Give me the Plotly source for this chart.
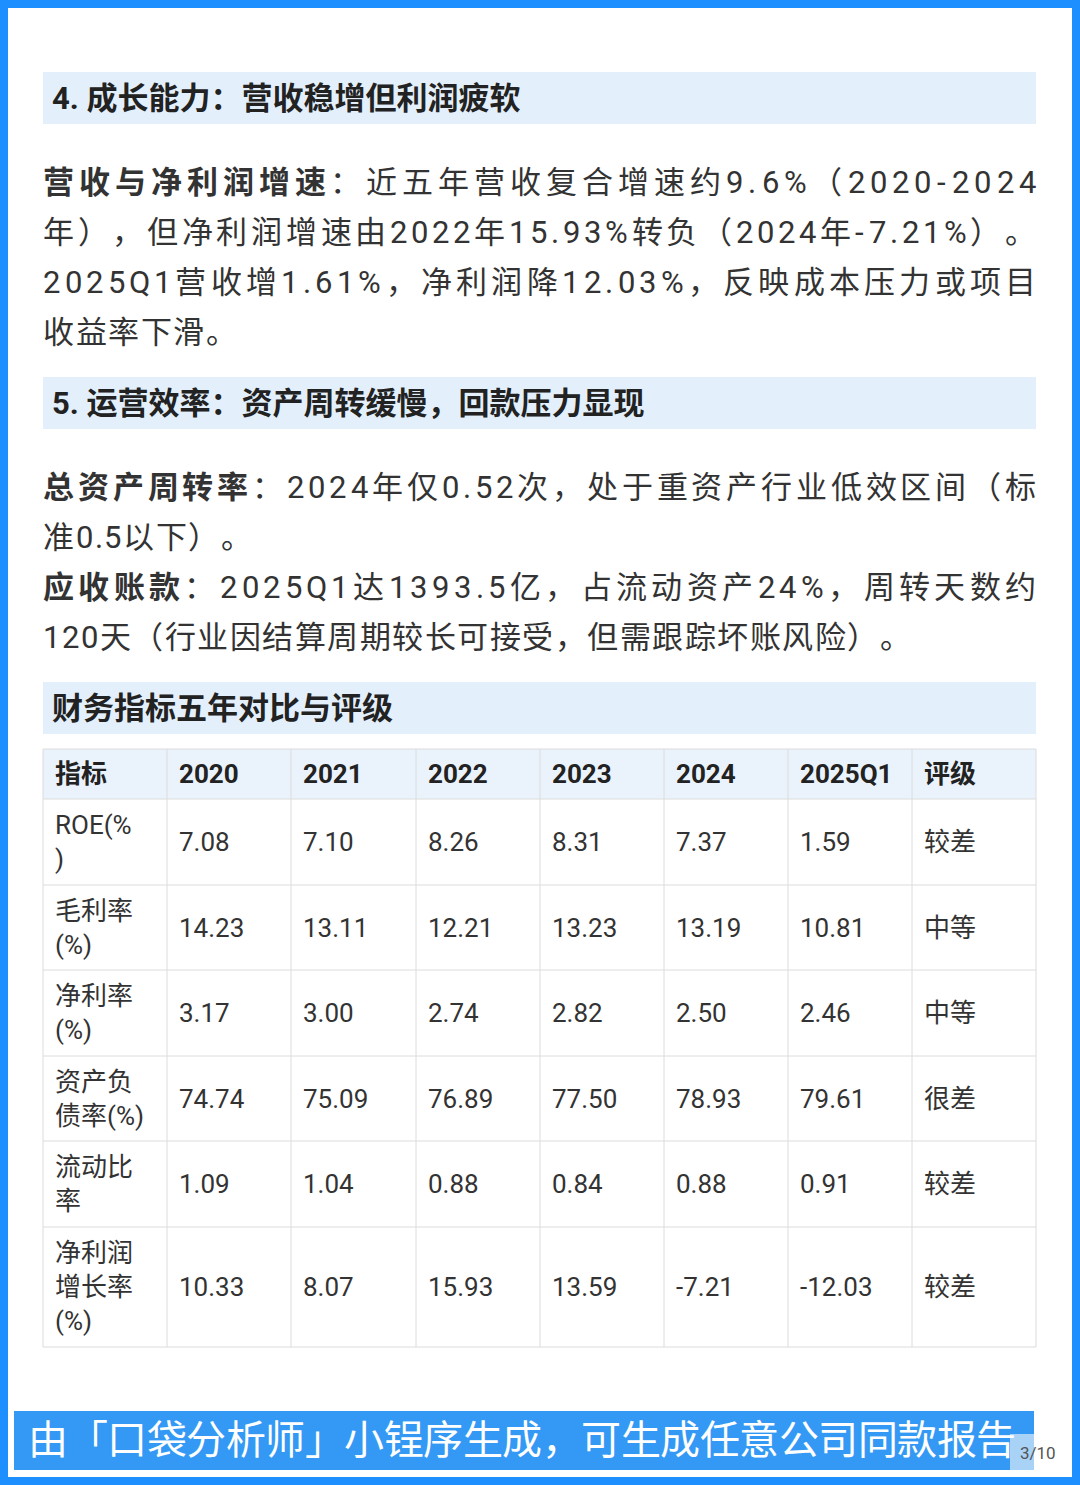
import plotly.graph_objects as go

headers = ["指标", "2020", "2021", "2022", "2023", "2024", "2025Q1", "评级"]
indicators = ["ROE(%<br>)", "毛利率<br>(%)", "净利率<br>(%)", "资产负<br>债率(%)", "流动比<br>率", "净利润<br>增长率<br>(%)"]
v2020 = ["7.08", "14.23", "3.17", "74.74", "1.09", "10.33"]
v2021 = ["7.10", "13.11", "3.00", "75.09", "1.04", "8.07"]
v2022 = ["8.26", "12.21", "2.74", "76.89", "0.88", "15.93"]
v2023 = ["8.31", "13.23", "2.82", "77.50", "0.84", "13.59"]
v2024 = ["7.37", "13.19", "2.50", "78.93", "0.88", "-7.21"]
v2025q1 = ["1.59", "10.81", "2.46", "79.61", "0.91", "-12.03"]
ratings = ["较差", "中等", "中等", "很差", "较差", "较差"]

FONT = "Roboto, Noto Sans CJK SC"
TXT = "#333333"
fig = go.Figure()
shapes, ann = [], []

def text(x, y, s, size, color=TXT, anchor="left", bold=False):
    ann.append(dict(x=x, y=y, text=f"<b>{s}</b>" if bold else s, xref="x", yref="y",
                    showarrow=False, xanchor=anchor, yanchor="middle", align="left",
                    font=dict(family=FONT, size=size, color=color)))

def cw(c, size):
    if ord(c) > 0x2000:
        return size
    if c in ".,": return 0.27 * size
    if c in "()-": return 0.33 * size
    if c == "%": return 0.74 * size
    if c.isupper(): return 0.65 * size
    return 0.56 * size

def jline(y, segs, size, justify, x0=43, x1=1036, color=TXT):
    chars = [(c, b) for s, b in segs for c in s]
    widths = [cw(c, size) for c, _ in chars]
    extra = (x1 - x0 - sum(widths)) / (len(chars) - 1) if justify else 1.5
    x = x0
    for (c, b), w in zip(chars, widths):
        text(x + w / 2, y, c, size, color, anchor="center", bold=b)
        x += w + extra

shapes.append(dict(type="rect", x0=4, y0=4, x1=1076, y1=1481, line=dict(color="#1e8fff", width=8),
                   fillcolor="white", layer="below"))

def heading(y0, y1, s):
    shapes.append(dict(type="rect", x0=43, x1=1036, y0=y0, y1=y1, fillcolor="#e3f0fc", line_width=0, layer="below"))
    text(50, (y0 + y1) / 2, s, 31, "#222222", bold=True)

heading(72, 124, "4. 成长能力：营收稳增但利润疲软")
jline(182, [("营收与净利润增速", True), ("：近五年营收复合增速约9.6%（2020-2024", False)], 31, True)
jline(232, [("年），但净利润增速由2022年15.93%转负（2024年-7.21%）。", False)], 31, True)
jline(282, [("2025Q1营收增1.61%，净利润降12.03%，反映成本压力或项目", False)], 31, True)
jline(332, [("收益率下滑。", False)], 31, False)
heading(377, 429, "5. 运营效率：资产周转缓慢，回款压力显现")
jline(487, [("总资产周转率", True), ("：2024年仅0.52次，处于重资产行业低效区间（标", False)], 31, True)
jline(537, [("准0.5以下）。", False)], 31, False)
jline(587, [("应收账款", True), ("：2025Q1达1393.5亿，占流动资产24%，周转天数约", False)], 31, True)
jline(637, [("120天（行业因结算周期较长可接受，但需跟踪坏账风险）。", False)], 31, False)
heading(682, 734, "财务指标五年对比与评级")

xs = [43, 167, 291, 416, 540, 664, 788, 912, 1036]
ys = [749, 799, 885, 970, 1056, 1141, 1227, 1347]
shapes.append(dict(type="rect", x0=43, x1=1036, y0=ys[0], y1=ys[1], fillcolor="#eaf3fc", line_width=0, layer="below"))
for x in xs:
    shapes.append(dict(type="line", x0=x, x1=x, y0=ys[0], y1=ys[-1], line=dict(color="#dcdcdc", width=1)))
for y in ys:
    shapes.append(dict(type="line", x0=43, x1=1036, y0=y, y1=y, line=dict(color="#dcdcdc", width=1)))
for j, h in enumerate(headers):
    text(xs[j] + 10, (ys[0] + ys[1]) / 2, h, 26, "#222222", bold=True)
cols = [indicators, v2020, v2021, v2022, v2023, v2024, v2025q1, ratings]
for j, col in enumerate(cols):
    for i, v in enumerate(col):
        text(xs[j] + 10, (ys[i + 1] + ys[i + 2]) / 2, v, 26, "#333333")

shapes.append(dict(type="rect", x0=14, x1=1034, y0=1411, y1=1470, fillcolor="#3399f5", line_width=0,
                   layer="below"))
shapes.append(dict(type="rect", x0=1010, x1=1034, y0=1434, y1=1470, fillcolor="#a9d2f7", line_width=0,
                   layer="below"))
jline(1440, [("由「口袋分析师」小锃序生成，可生成任意公司同款报告", False)], 40, True, x0=28, x1=1016, color="white")
text(1038, 1453, "3/10", 17, "#555555", anchor="center")

fig.update_layout(width=1080, height=1485, margin=dict(l=0, r=0, t=0, b=0),
                  paper_bgcolor="white", plot_bgcolor="white", shapes=shapes, annotations=ann,
                  xaxis=dict(range=[0, 1080], visible=False, fixedrange=True),
                  yaxis=dict(range=[1485, 0], visible=False, fixedrange=True),
                  showlegend=False)
fig.write_html("out.html", config={"displayModeBar": False},
               post_script="document.body.style.margin='0';document.body.style.overflow='hidden';")
